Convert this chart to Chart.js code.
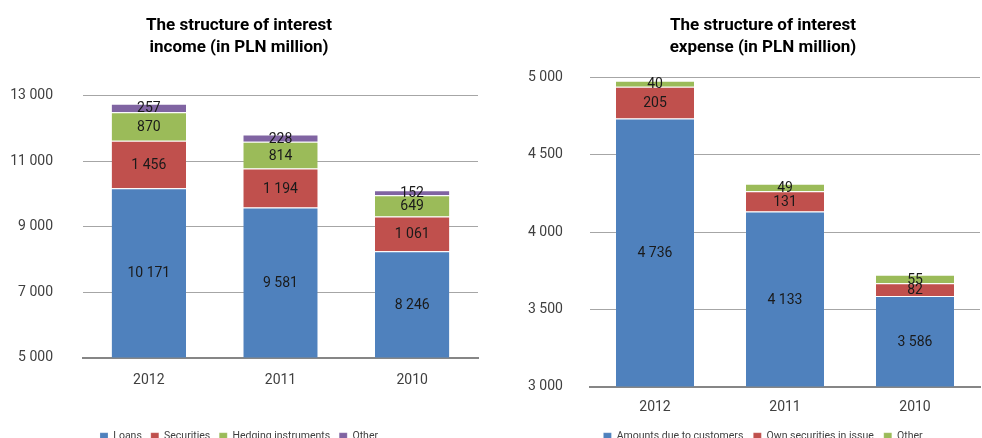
<!DOCTYPE html>
<html>
<head>
<meta charset="utf-8">
<script src="https://cdn.jsdelivr.net/npm/chart.js@4.4.0/dist/chart.umd.min.js"></script>
<style>
  html, body { margin: 0; padding: 0; background: #fff; overflow: hidden; }
  body { width: 982px; height: 438px; position: relative; }
  .box { position: absolute; top: 0; height: 452px; }
  #left { left: 0; width: 490px; }
  #right { left: 490px; width: 492px; }
</style>
</head>
<body>
<div class="box" id="left"><canvas id="incomeChart"></canvas></div>
<div class="box" id="right"><canvas id="expenseChart"></canvas></div>
<script>
const years = ['2012', '2011', '2010'];

// interest income, PLN million
const incomeLoans = [10171, 9581, 8246];
const incomeSecurities = [1456, 1194, 1061];
const incomeHedging = [870, 814, 649];
const incomeOther = [257, 228, 152];
const incomeTicks = [5000, 13000, 2000]; // min, max, step

// interest expense, PLN million
const expenseCustomers = [4736, 4133, 3586];
const expenseOwnSecurities = [205, 131, 82];
const expenseOther = [40, 49, 55];
const expenseTicks = [3000, 5000, 500];

const BLUE = '#4f81bd', RED = '#c0504d', GREEN = '#9bbb59', PURPLE = '#8064a2';

Chart.defaults.font.family = 'Roboto';
Chart.defaults.color = '#404040';

function fmt(v) {
    return String(v).replace(/\B(?=(\d{3})+(?!\d))/g, ' ');
}

// value labels in the middle of the visible part of each segment
const segmentLabels = {
    id: 'segmentLabels',
    afterDatasetsDraw(chart) {
        const ctx = chart.ctx;
        const area = chart.chartArea;
        ctx.save();
        ctx.font = '14px Roboto';
        ctx.fillStyle = '#1a1a1a';
        ctx.textAlign = 'center';
        ctx.textBaseline = 'middle';
        chart.data.datasets.forEach((ds, i) => {
            chart.getDatasetMeta(i).data.forEach((bar, j) => {
                const top = Math.max(bar.y, area.top);
                const bottom = Math.min(bar.base, area.bottom);
                ctx.fillText(fmt(ds.data[j]), bar.x, (top + bottom) / 2 + 1);
            });
        });
        ctx.restore();
    }
};

function segment(label, data, color, barPct) {
    return {
        label: label,
        data: data,
        backgroundColor: color,
        borderColor: 'rgba(255,255,255,0.7)',
        borderWidth: { top: 1, left: 0, right: 0, bottom: 0 },
        borderSkipped: false,
        barPercentage: barPct,
        categoryPercentage: 1
    };
}

function makeChart(id, cfg) {
    return new Chart(document.getElementById(id), {
        type: 'bar',
        data: { labels: years, datasets: cfg.datasets },
        plugins: [segmentLabels],
        options: {
            responsive: true,
            maintainAspectRatio: false,
            animation: false,
            layout: { padding: cfg.padding },
            plugins: {
                title: {
                    display: true,
                    text: cfg.title,
                    color: '#000',
                    font: { size: 17, weight: 'bold', lineHeight: 1.3 },
                    padding: { top: 15, bottom: cfg.titleGap }
                },
                legend: {
                    position: 'bottom',
                    labels: {
                        boxWidth: 8,
                        boxHeight: 8,
                        padding: cfg.legendPad,
                        font: { size: 10.5 },
                        color: '#404040'
                    }
                },
                tooltip: { enabled: false }
            },
            scales: {
                x: {
                    stacked: true,
                    grid: { display: false },
                    border: { display: true, color: '#868686', width: 2 },
                    ticks: { font: { size: 14 }, padding: cfg.xPad },
                    afterFit: s => { s.height = cfg.xHeight; }
                },
                y: {
                    stacked: true,
                    min: cfg.ticks[0],
                    max: cfg.ticks[1],
                    grid: { color: '#a6a6a6', lineWidth: 1, drawTicks: false },
                    border: { display: false },
                    ticks: {
                        stepSize: cfg.ticks[2],
                        font: { size: 14 },
                        mirror: cfg.mirror,
                        padding: cfg.yPad,
                        callback: v => fmt(v)
                    },
                    afterFit: s => { s.width = cfg.yWidth; }
                }
            }
        }
    });
}

makeChart('incomeChart', {
    title: ['The structure of interest', 'income (in PLN million)'],
    titleGap: 36.5,
    padding: { left: 0, right: 12, top: 0, bottom: 0 },
    ticks: incomeTicks,
    yWidth: 83, yPad: 30, mirror: false,
    xHeight: 65, xPad: 7,
    legendPad: 9,
    datasets: [
        segment('Loans', incomeLoans, BLUE, 0.565),
        segment('Securities', incomeSecurities, RED, 0.565),
        segment('Hedging instruments', incomeHedging, GREEN, 0.565),
        segment('Other', incomeOther, PURPLE, 0.565)
    ]
});

// labels of the right chart sit left of its title box, so they are mirrored with a negative padding
makeChart('expenseChart', {
    title: ['The structure of interest', 'expense (in PLN million)'],
    titleGap: 18.5,
    padding: { left: 56, right: 2, top: 0, bottom: 0 },
    ticks: expenseTicks,
    yWidth: 44, yPad: -62, mirror: true,
    xHeight: 35, xPad: 4.5,
    legendPad: 10,
    datasets: [
        segment('Amounts due to customers', expenseCustomers, BLUE, 0.6),
        segment('Own securities in issue', expenseOwnSecurities, RED, 0.6),
        segment('Other', expenseOther, GREEN, 0.6)
    ]
});
</script>
</body>
</html>
